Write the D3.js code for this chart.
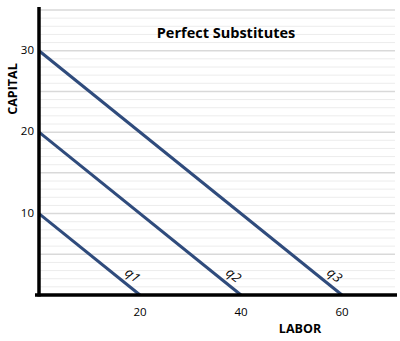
<!DOCTYPE html>
<html>
<head>
<meta charset="utf-8">
<script src="https://cdn.jsdelivr.net/npm/d3@7"></script>
<style>
  body { margin: 0; background: #fff; }
  svg text { font-family: "Open Sans", "Noto Sans", sans-serif; }
</style>
</head>
<body>
<div id="chart"></div>
<script>
// isoquants, each a straight line between the two axis intercepts
var lineNames = ["q1", "q2", "q3"];
var laborIntercepts = [20, 40, 60];
var capitalIntercepts = [10, 20, 30];
var xTicks = [20, 40, 60];
var yTicks = [10, 20, 30];

var width = 400, height = 341;
var margin = {left: 39, right: 5, top: 10, bottom: 46};

var svg = d3.select("#chart").append("svg")
    .attr("width", width)
    .attr("height", height);

var x = d3.scaleLinear().domain([0, 60]).range([margin.left, 342]);
var y = d3.scaleLinear().domain([0, 35]).range([height - margin.bottom, margin.top]);

// grid lines, every unit, darker every 5
var grid = svg.append("g");
d3.range(1, 36).forEach(function(v){
    grid.append("line")
        .attr("x1", x(0)).attr("x2", 395)
        .attr("y1", y(v)).attr("y2", y(v))
        .attr("stroke", v % 5 == 0 ? "#d9d9d9" : "#ececec")
        .attr("stroke-width", v % 5 == 0 ? 1.5 : 1);
});

// title
svg.append("text")
    .attr("x", 226).attr("y", 38)
    .attr("text-anchor", "middle")
    .attr("font-size", 14.5).attr("font-weight", "bold")
    .text("Perfect Substitutes");

// isoquant lines
var lineColor = "#2f4b7c";
lineNames.forEach(function(name, i){
    svg.append("line")
        .attr("x1", x(0)).attr("y1", y(capitalIntercepts[i]))
        .attr("x2", x(laborIntercepts[i])).attr("y2", y(0))
        .attr("stroke", lineColor)
        .attr("stroke-width", 3);

    // label rotated along the line, just above its end
    var px = x(laborIntercepts[i]) - 8, py = y(0) - 19;
    var ang = Math.atan2(y(0) - y(capitalIntercepts[i]), x(laborIntercepts[i]) - x(0)) * 180 / Math.PI;
    svg.append("text")
        .attr("transform", "translate(" + px + "," + py + ") rotate(" + ang + ")")
        .attr("text-anchor", "middle")
        .attr("dominant-baseline", "middle")
        .attr("font-size", 13).attr("font-style", "italic")
        .text(name);
});

// axes
svg.append("line")
    .attr("x1", x(0)).attr("x2", x(0))
    .attr("y1", 7).attr("y2", y(0) + 1.5)
    .attr("stroke", "#000").attr("stroke-width", 3.5);
svg.append("line")
    .attr("x1", 35).attr("x2", 397)
    .attr("y1", y(0)).attr("y2", y(0))
    .attr("stroke", "#000").attr("stroke-width", 3.5);

// tick labels
svg.selectAll(".yt").data(yTicks).enter().append("text")
    .attr("x", 34).attr("y", function(d){ return y(d); })
    .attr("text-anchor", "end").attr("dominant-baseline", "middle")
    .attr("font-size", 11.5)
    .text(function(d){ return d; });
svg.selectAll(".xt").data(xTicks).enter().append("text")
    .attr("x", function(d){ return x(d); }).attr("y", 316)
    .attr("text-anchor", "middle")
    .attr("font-size", 11.5)
    .text(function(d){ return d; });

// axis titles
svg.append("text")
    .attr("transform", "translate(17,89) rotate(-90)")
    .attr("text-anchor", "middle")
    .attr("font-size", 12.5).attr("font-weight", "bold")
    .text("CAPITAL");
svg.append("text")
    .attr("x", 300).attr("y", 333)
    .attr("text-anchor", "middle")
    .attr("font-size", 12.5).attr("font-weight", "bold")
    .text("LABOR");
</script>
</body>
</html>
